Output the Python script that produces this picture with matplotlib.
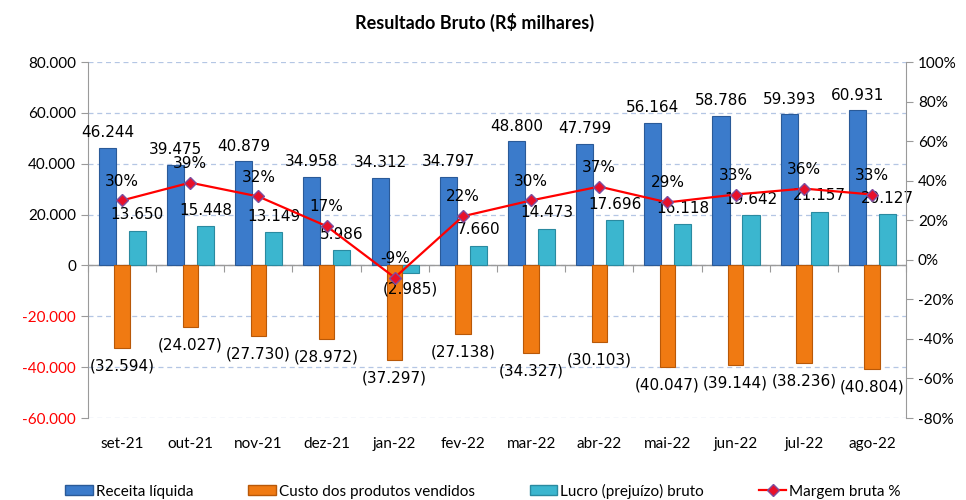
import matplotlib.pyplot as plt
import numpy as np
from matplotlib.patches import Patch
from matplotlib.lines import Line2D

# dados (R$ milhares)
meses = ['set-21', 'out-21', 'nov-21', 'dez-21', 'jan-22', 'fev-22',
         'mar-22', 'abr-22', 'mai-22', 'jun-22', 'jul-22', 'ago-22']
receita = [46244, 39475, 40879, 34958, 34312, 34797, 48800, 47799, 56164, 58786, 59393, 60931]
custo = [-32594, -24027, -27730, -28972, -37297, -27138, -34327, -30103, -40047, -39144, -38236, -40804]
lucro = [13650, 15448, 13149, 5986, -2985, 7660, 14473, 17696, 16118, 19642, 21157, 20127]
margem = [30, 39, 32, 17, -9, 22, 30, 37, 29, 33, 36, 33]

azul = '#3B7BCB'
laranja = '#F07A12'
ciano = '#3BB6CF'
cinza = '#9A9A9A'
fonte = 'Lato'


def fmt(v):
    s = f"{abs(v):,.0f}".replace(',', '.')
    return f"({s})" if v < 0 else s


x = np.arange(len(meses))
w = 0.25

fig = plt.figure(figsize=(9.66, 5), dpi=100)
ax = fig.add_axes([0.091, 0.164, 0.847, 0.712])

ax.bar(x - 0.215, receita, w, color=azul, edgecolor='#2A5A98', linewidth=0.8, zorder=2)
ax.bar(x, custo, w * 0.9, color=laranja, edgecolor='#B85808', linewidth=0.8, zorder=3)
ax.bar(x + 0.225, lucro, w, color=ciano, edgecolor='#2A8AA0', linewidth=0.8, zorder=2)

ax.set_xlim(-0.5, len(meses) - 0.5)
ax.set_ylim(-60000, 80000)
yt = np.arange(-60000, 80001, 20000)
ax.set_yticks(yt)
ax.set_yticklabels([f"{v:,.0f}".replace(',', '.') for v in yt], fontfamily=fonte, fontsize=11)
for lab, v in zip(ax.get_yticklabels(), yt):
    if v < 0:
        lab.set_color('red')
ax.yaxis.grid(True, linestyle=(0, (4, 3)), color='#B4C6E4', linewidth=0.9)
ax.set_axisbelow(True)

ax.set_xticks(x)
ax.set_xticklabels(meses, fontfamily=fonte, fontsize=11)
ax.tick_params(axis='x', length=0, pad=14)
ax.tick_params(axis='y', color=cinza, length=5)
for s in ['top', 'right', 'bottom']:
    ax.spines[s].set_visible(False)
ax.spines['left'].set_color(cinza)
ax.axhline(0, color=cinza, linewidth=1, zorder=1)

# marcas entre categorias no eixo zero
zero_frac = 60000 / 140000
sec = ax.secondary_xaxis(zero_frac)
sec.set_xticks(np.arange(-0.5, len(meses), 1.0))
sec.set_xticklabels([])
sec.tick_params(length=5, color=cinza)
sec.spines['bottom'].set_visible(False)

# rótulos das barras
for i in range(len(meses)):
    ax.annotate(fmt(receita[i]), (x[i] - 0.215, receita[i]), xytext=(0, 11),
                textcoords='offset points', ha='center', va='center', fontsize=11)
    ax.annotate(fmt(custo[i]), (x[i], custo[i]), xytext=(0, -13),
                textcoords='offset points', ha='center', va='center', fontsize=11)
    off = 11.5 if lucro[i] >= 0 else -11.5
    ax.annotate(fmt(lucro[i]), (x[i] + 0.225, lucro[i]), xytext=(0, off),
                textcoords='offset points', ha='center', va='center', fontsize=11)

ax2 = ax.twinx()
ax2.plot(x, margem, color='red', linewidth=1.6, marker='D', markersize=6,
         markerfacecolor='#E8102A', markeredgecolor='#7E4E9E', markeredgewidth=1.0)
ax2.set_ylim(-80, 100)
pt = np.arange(-80, 101, 20)
ax2.set_yticks(pt)
ax2.set_yticklabels([f"{v}%" for v in pt], fontfamily=fonte, fontsize=11)
ax2.tick_params(axis='y', color=cinza, length=5)
for s in ['top', 'left', 'bottom']:
    ax2.spines[s].set_visible(False)
ax2.spines['right'].set_color(cinza)
for i in range(len(meses)):
    ax2.annotate(f"{margem[i]}%", (x[i], margem[i]), xytext=(0, 14),
                 textcoords='offset points', ha='center', va='center', fontsize=11)

fig.text(0.491, 1 - 22 / 500, 'Resultado Bruto (R$ milhares)', ha='center', va='center',
         fontfamily=fonte, fontweight='bold', fontsize=13)

handles = [Patch(facecolor=azul, edgecolor='#2A5A98'),
           Patch(facecolor=laranja, edgecolor='#B85808'),
           Patch(facecolor=ciano, edgecolor='#2A8AA0'),
           Line2D([], [], color='red', linewidth=1.6, marker='D', markersize=6,
                  markerfacecolor='#E8102A', markeredgecolor='#7E4E9E')]
nomes = ['Receita líquida', 'Custo dos produtos vendidos', 'Lucro (prejuízo) bruto', 'Margem bruta %']
fig.legend(handles, nomes, loc='center', bbox_to_anchor=(0.5, 1 - 491 / 500), ncol=4,
           frameon=False, prop={'family': fonte, 'size': 11}, handlelength=1.8,
           handleheight=0.6, handletextpad=0.2, columnspacing=3.6)

fig.savefig('out.png', dpi=100)
